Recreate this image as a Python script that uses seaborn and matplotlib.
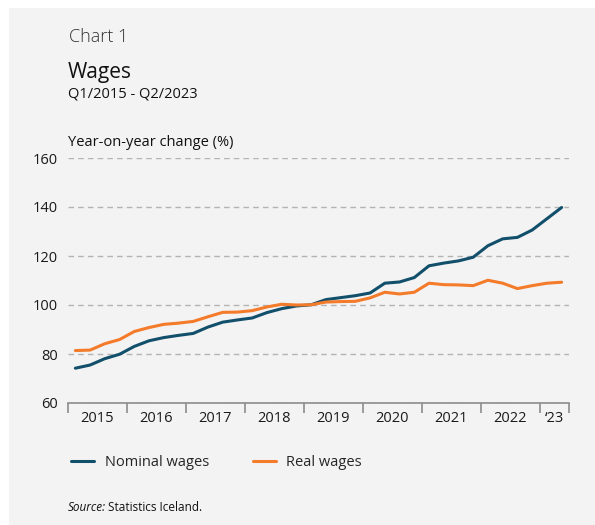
import numpy as np
import pandas as pd
import matplotlib
matplotlib.use("Agg")
import matplotlib.pyplot as plt
import seaborn as sns
from matplotlib.patches import Rectangle

# Quarterly index values, Q1/2015 - Q2/2023
quarters = [f"Q{q}/{y}" for y in range(2015, 2024) for q in range(1, 5)][:34]
nominal_wages = [74.2, 75.5, 78.1, 79.9, 83.1, 85.4, 86.7, 87.6, 88.4, 91.0,
                 93.0, 93.9, 94.7, 96.9, 98.5, 99.6, 100.1, 102.2, 103.0, 103.8,
                 104.9, 108.9, 109.4, 111.2, 116.0, 117.1, 118.0, 119.5, 124.2, 127.0,
                 127.6, 130.6, 135.2, 139.8]
real_wages = [81.4, 81.6, 84.2, 85.9, 89.2, 90.8, 92.1, 92.6, 93.3, 95.2,
              97.0, 97.1, 97.7, 99.2, 100.3, 100.0, 100.1, 101.2, 101.4, 101.5,
              102.9, 105.2, 104.5, 105.2, 108.9, 108.3, 108.2, 107.9, 110.1, 108.9,
              106.7, 107.9, 108.9, 109.3]
year_labels = ["2015", "2016", "2017", "2018", "2019", "2020", "2021", "2022", "\u201823"]
series_names = ["Nominal wages", "Real wages"]
colors = ["#114f6b", "#f47b2a"]

sns.set_style("white")
plt.rcParams['font.family'] = ['Open Sans', 'DejaVu Sans']

# long-form table for seaborn, points centred in each quarter band
pos = np.arange(len(quarters)) + 0.5
df = pd.concat([
    pd.DataFrame({"pos": pos, "value": nominal_wages, "series": series_names[0]}),
    pd.DataFrame({"pos": pos, "value": real_wages, "series": series_names[1]}),
])

fig = plt.figure(figsize=(5.95, 5.25), dpi=100)
fig.patch.set_facecolor("white")
fig.patches.append(Rectangle((9 / 595, 0), 1, 1 - 8 / 525, transform=fig.transFigure,
                             facecolor="#f3f3f3", edgecolor="none", zorder=-10))

ax = fig.add_axes([68 / 595, 122 / 525, 501 / 595, 245 / 525])
ax.set_facecolor("none")
sns.lineplot(data=df, x="pos", y="value", hue="series", palette=colors,
             linewidth=2.2, ax=ax, legend=False)

ax.set_xlim(0, len(quarters))
ax.set_ylim(60, 160)
ax.set_yticks(range(60, 161, 20))
ax.grid(axis="y", color="#b3b3b3", linestyle=(0, (4, 3)), linewidth=1)
ax.set_axisbelow(True)

for s in ["top", "right", "left"]:
    ax.spines[s].set_visible(False)
ax.spines["bottom"].set_color("#8c8c8c")
ax.spines["bottom"].set_linewidth(1.2)

# year boundaries as ticks, year names between them
bounds = list(range(0, len(quarters), 4)) + [len(quarters)]
mids = [(a + b) / 2 for a, b in zip(bounds[:-1], bounds[1:])]
ax.set_xticks(bounds)
ax.set_xticklabels([])
ax.set_xticks(mids, minor=True)
ax.set_xticklabels(year_labels, minor=True)
ax.tick_params(axis="x", which="major", bottom=True, length=7, width=1.2,
               color="#8c8c8c", direction="out")
ax.tick_params(axis="x", which="minor", bottom=True, length=0, pad=6, labelsize=10.5,
               labelcolor="#1a1a1a")
ax.tick_params(axis="y", length=0, pad=7, labelsize=10.5, labelcolor="#1a1a1a")
ax.set_xlabel("")
ax.set_ylabel("")

fig.text(69 / 595, 1 - 42 / 525, "Chart 1", fontsize=13, color="#333333", fontweight="light")
fig.text(68 / 595, 1 - 78 / 525, "Wages", fontsize=15, color="#111111")
fig.text(68 / 595, 1 - 98 / 525, "Q1/2015 - Q2/2023", fontsize=10.5, color="#111111")
fig.text(68 / 595, 1 - 146 / 525, "Year-on-year change (%)", fontsize=10.5, color="#111111")

handles = [plt.Line2D([], [], color=c, linewidth=2.2) for c in colors]
fig.legend(handles, series_names, loc="center left", bbox_to_anchor=(58 / 595, 1 - 463 / 525),
           ncol=2, frameon=False, fontsize=10.5, handlelength=1.6, handletextpad=0.7,
           columnspacing=3.0)

fig.text(68 / 595, 1 - 511 / 525, "Source:", fontsize=8.5, style="italic", color="#111111")
fig.text(108 / 595, 1 - 511 / 525, "Statistics Iceland.", fontsize=8.5, color="#111111")

fig.savefig("out.png", dpi=100)
